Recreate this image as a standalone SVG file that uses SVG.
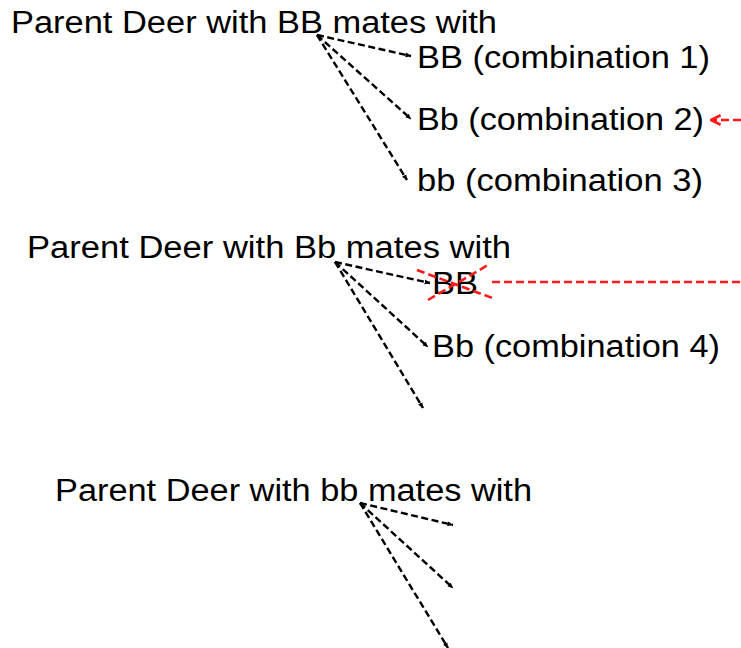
<svg xmlns="http://www.w3.org/2000/svg" width="741" height="648" viewBox="0 0 741 648">
<defs>
<style>
text{font-family:"Liberation Sans",Arial,sans-serif;font-size:31px;fill:#000}
.c{fill:none;stroke:#000;stroke-width:2.4;stroke-dasharray:7,3.5;marker-end:url(#ah)}
.r{fill:none;stroke:#ff1a1a;stroke-width:2.6;stroke-dasharray:8,4}
</style>
<marker id="ah" viewBox="0 0 10 10" refX="9" refY="5" markerWidth="6" markerHeight="6" orient="auto" markerUnits="userSpaceOnUse">
<path d="M0,1 L10,5 L0,9 z" fill="#000"/>
</marker>
<marker id="rh" viewBox="0 0 10 10" refX="9" refY="5" markerWidth="12" markerHeight="12" orient="auto" markerUnits="userSpaceOnUse">
<path d="M1,1 L9,5 L1,9" fill="none" stroke="#ff1a1a" stroke-width="2.2"/>
</marker>
</defs>
<rect width="741" height="648" fill="#fff"/>
<g id="parentBB"><text x="11" y="33" textLength="486" lengthAdjust="spacingAndGlyphs">Parent Deer with BB mates with</text></g>
<g id="combo1"><text x="417" y="68" textLength="293" lengthAdjust="spacingAndGlyphs">BB (combination 1)</text></g>
<g id="combo2"><text x="417" y="130" textLength="287" lengthAdjust="spacingAndGlyphs">Bb (combination 2)</text></g>
<g id="combo3"><text x="417" y="191" textLength="286" lengthAdjust="spacingAndGlyphs">bb (combination 3)</text></g>
<g id="parentBb"><text x="27" y="258" textLength="484" lengthAdjust="spacingAndGlyphs">Parent Deer with Bb mates with</text></g>
<g id="crossedBB"><text x="432" y="294" textLength="46" lengthAdjust="spacingAndGlyphs">BB</text>
<line class="r" x1="417" y1="270" x2="495" y2="299"/>
<line class="r" x1="428" y1="300" x2="488" y2="265"/></g>
<g id="combo4"><text x="432" y="357" textLength="288" lengthAdjust="spacingAndGlyphs">Bb (combination 4)</text></g>
<g id="parentbb"><text x="55" y="501" textLength="477" lengthAdjust="spacingAndGlyphs">Parent Deer with bb mates with</text></g>
<g id="connectors">
<line class="c" x1="317" y1="35" x2="411" y2="56"/>
<line class="c" x1="317" y1="35" x2="411" y2="119"/>
<line class="c" x1="317" y1="35" x2="407" y2="180"/>
<line class="c" x1="335" y1="262" x2="430" y2="283"/>
<line class="c" x1="335" y1="262" x2="428" y2="347"/>
<line class="c" x1="335" y1="262" x2="423" y2="408"/>
<line class="c" x1="360" y1="503" x2="453" y2="525"/>
<line class="c" x1="360" y1="503" x2="453" y2="588"/>
<line class="c" x1="360" y1="503" x2="448" y2="648"/>
<line class="r" x1="492" y1="282" x2="741" y2="282"/>
<line class="r" x1="741" y1="120" x2="711" y2="120" marker-end="url(#rh)"/>
</g>
</svg>
